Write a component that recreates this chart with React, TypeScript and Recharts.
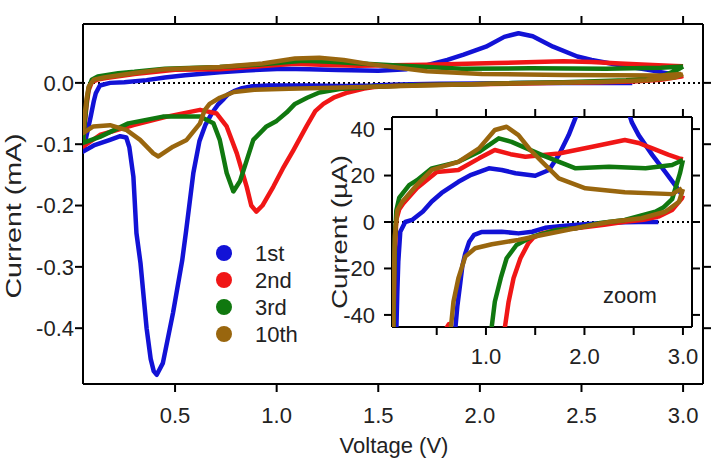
import React from 'react';
import { ScatterChart, Scatter, XAxis, YAxis, ReferenceLine } from 'recharts';

type Pt = [number, number];

// voltage (V), current (mA), in sweep order
const cycle1st: Pt[] = [
  [2.75, 0.0], [2.55, 0.0], [2.4, -0.0001], [2.2, -0.0004], [2.0, -0.001], [1.8, -0.0016],
  [1.6, -0.0025], [1.47, -0.0042], [1.33, -0.0049], [1.16, -0.0042], [0.96, -0.0043],
  [0.88, -0.0055], [0.83, -0.0085], [0.79, -0.0135], [0.76, -0.019], [0.74, -0.026],
  [0.71, -0.036], [0.68, -0.05], [0.65, -0.068], [0.62, -0.095], [0.59, -0.147],
  [0.555, -0.24], [0.535, -0.29], [0.49, -0.375], [0.44, -0.457], [0.41, -0.476],
  [0.395, -0.47], [0.38, -0.45], [0.36, -0.4], [0.33, -0.294], [0.31, -0.245],
  [0.295, -0.153], [0.275, -0.105], [0.26, -0.089], [0.23, -0.087], [0.18, -0.093],
  [0.1, -0.102], [0.047, -0.112],
  [0.065, -0.085], [0.085, -0.055], [0.1, -0.03], [0.11, -0.017], [0.13, -0.0042],
  [0.18, 0.0], [0.25, 0.0009], [0.36, 0.0045], [0.45, 0.0088], [0.55, 0.0125],
  [0.72, 0.0173], [0.85, 0.0203], [1.03, 0.0231], [1.16, 0.0224], [1.3, 0.021],
  [1.5, 0.0199], [1.64, 0.0224], [1.74, 0.0288], [1.84, 0.0374], [1.92, 0.046],
  [2.03, 0.059], [2.12, 0.075], [2.19, 0.081], [2.26, 0.076], [2.36, 0.059],
  [2.48, 0.043], [2.55, 0.0374], [2.69, 0.0288], [2.82, 0.0216], [2.92, 0.0159],
  [2.99, 0.0116],
];

const cycle2nd: Pt[] = [
  [3.0, 0.0114], [2.99, 0.0102], [2.89, 0.0052], [2.75, 0.0023], [2.6, 0.001],
  [2.41, 0.0001], [2.2, -0.0012], [1.91, -0.0027], [1.7, -0.0036], [1.57, -0.0049],
  [1.48, -0.0068], [1.43, -0.0092], [1.35, -0.0156], [1.28, -0.0242], [1.23, -0.0343],
  [1.19, -0.046], [1.148, -0.07], [1.082, -0.11], [1.03, -0.14], [0.984, -0.169],
  [0.93, -0.2], [0.9, -0.21], [0.875, -0.2], [0.853, -0.17], [0.804, -0.115],
  [0.754, -0.071], [0.705, -0.05], [0.623, -0.044], [0.46, -0.055], [0.295, -0.069],
  [0.13, -0.085], [0.047, -0.104],
  [0.055, -0.07], [0.065, -0.035], [0.075, -0.012], [0.09, 0.001], [0.12, 0.0055],
  [0.16, 0.008], [0.3, 0.0146], [0.5, 0.0215], [0.72, 0.0224], [0.93, 0.0274],
  [1.09, 0.031], [1.25, 0.0292], [1.4, 0.0281], [1.74, 0.0295], [2.08, 0.0324],
  [2.41, 0.0353], [2.55, 0.034], [2.69, 0.0317], [2.85, 0.029], [2.96, 0.0274],
  [3.0, 0.027],
];

const cycle3rd: Pt[] = [
  [3.0, 0.0267], [2.97, 0.021], [2.94, 0.0168], [2.89, 0.0098], [2.8, 0.0062],
  [2.72, 0.0044], [2.41, 0.0009], [2.16, -0.0004], [1.91, -0.0027], [1.72, -0.0034],
  [1.47, -0.0063], [1.31, -0.0099], [1.21, -0.0156], [1.15, -0.0242], [1.09, -0.0343],
  [1.05, -0.048], [1.0, -0.062], [0.95, -0.071], [0.885, -0.093], [0.853, -0.126],
  [0.82, -0.16], [0.787, -0.177], [0.754, -0.147], [0.72, -0.093], [0.689, -0.066],
  [0.623, -0.055], [0.44, -0.055], [0.27, -0.066], [0.13, -0.088], [0.047, -0.098],
  [0.055, -0.065], [0.065, -0.03], [0.075, -0.008], [0.09, 0.005], [0.12, 0.0105],
  [0.22, 0.0159], [0.3, 0.018], [0.45, 0.0231], [0.72, 0.0259], [0.93, 0.0302],
  [1.13, 0.036], [1.26, 0.0345], [1.57, 0.0288], [1.91, 0.0231], [2.25, 0.0238],
  [2.62, 0.0231], [2.89, 0.0245], [3.0, 0.0267],
];

const cycle10th: Pt[] = [
  [3.0, 0.0142], [2.96, 0.0087], [2.82, 0.0044], [2.58, 0.0016], [2.25, 0.0],
  [1.91, -0.0027], [1.57, -0.0056], [1.33, -0.0077], [1.06, -0.0096], [0.89, -0.0113],
  [0.79, -0.0149], [0.72, -0.0242], [0.67, -0.0343], [0.645, -0.045], [0.623, -0.066],
  [0.557, -0.093], [0.49, -0.104], [0.418, -0.12], [0.393, -0.115], [0.328, -0.093],
  [0.262, -0.077], [0.18, -0.069], [0.098, -0.071], [0.047, -0.082],
  [0.055, -0.055], [0.065, -0.025], [0.075, -0.006], [0.1, 0.005], [0.15, 0.0087],
  [0.3, 0.016], [0.45, 0.0224], [0.72, 0.0259], [0.93, 0.0317], [1.09, 0.0396],
  [1.21, 0.041], [1.33, 0.0374], [1.45, 0.031], [1.57, 0.0259], [1.74, 0.0188],
  [2.01, 0.0145], [2.41, 0.0128], [2.89, 0.012], [2.99, 0.0145],
];

const cycles = [
  { name: '1st', color: '#1212d6', points: cycle1st },
  { name: '2nd', color: '#f01616', points: cycle2nd },
  { name: '3rd', color: '#10780f', points: cycle3rd },
  { name: '10th', color: '#99660e', points: cycle10th },
];

const mainXTicks = [0.5, 1.0, 1.5, 2.0, 2.5, 3.0];
const mainYTicks = [0, -0.1, -0.2, -0.3, -0.4];
const insetXTicks = [0.5, 1.0, 1.5, 2.0, 2.5, 3.0];
const insetYTicks = [40, 20, 0, -20, -40];

const FONT = '"Liberation Sans", Arial, sans-serif';
const tickStyle = { fontSize: 22, fill: '#222', fontFamily: FONT };
const axisLine = { stroke: '#000', strokeWidth: 2 };
const tickLine = { stroke: '#000', strokeWidth: 2 };
const noShape = () => <g />;
const blank = () => '';

// mirror axes (top / right) only carry tick marks
function frameAxes(xDomain: number[], yDomain: number[], xTicks: number[], yTicks: number[]) {
  return [
    <XAxis key="t" xAxisId="t" orientation="top" type="number" dataKey="v" domain={xDomain} allowDataOverflow
      ticks={xTicks} tickFormatter={blank} height={1} tickSize={8}
      tick={tickStyle} axisLine={axisLine} tickLine={tickLine} />,
    <YAxis key="r" yAxisId="r" orientation="right" type="number" dataKey="i" domain={yDomain} allowDataOverflow
      ticks={yTicks} tickFormatter={blank} width={1} tickSize={8}
      tick={tickStyle} axisLine={axisLine} tickLine={tickLine} />,
  ];
}

export default function App() {
  const mainData = cycles.map(c => ({ ...c, data: c.points.map(([v, i]) => ({ v, i })) }));
  const insetData = cycles.map(c => ({ ...c, data: c.points.map(([v, i]) => ({ v, i: i * 1000 })) }));
  const mainX = [0.047, 3.098];
  const mainY = [-0.491, 0.096];
  const insetX = [0.046, 3.092];
  const insetY = [-45.2, 45.2];

  return (
    <div style={{ position: 'absolute', left: 0, top: 0, width: 713, height: 466, background: '#fff' }}>
      <div style={{ position: 'absolute', left: 0, top: 0 }}>
        <ScatterChart width={713} height={466} margin={{ top: 23, right: 9, bottom: 0, left: 0 }}>
          <XAxis xAxisId="b" type="number" dataKey="v" domain={mainX} allowDataOverflow
            ticks={mainXTicks} tickFormatter={v => v.toFixed(1)} height={82} tickSize={8} tickMargin={15}
            tick={tickStyle} axisLine={axisLine} tickLine={tickLine} />
          <YAxis yAxisId="l" type="number" dataKey="i" domain={mainY} allowDataOverflow
            ticks={mainYTicks} tickFormatter={v => v.toFixed(1)} width={83} tickSize={8} tickMargin={1}
            tick={tickStyle} axisLine={axisLine} tickLine={tickLine} />
          {frameAxes(mainX, mainY, mainXTicks, mainYTicks)}
          <ReferenceLine xAxisId="b" yAxisId="l" y={0} stroke="#000" strokeWidth={2} strokeDasharray="2 3" />
          <Scatter xAxisId="t" yAxisId="r" data={mainData[0].data} shape={noShape} isAnimationActive={false} />
          {mainData.map(c => (
            <Scatter key={c.name} xAxisId="b" yAxisId="l" data={c.data} shape={noShape}
              line={{ stroke: c.color, strokeWidth: 4.5, strokeLinejoin: 'round' }} isAnimationActive={false} />
          ))}
        </ScatterChart>
      </div>
      <div style={{ position: 'absolute', left: 392, top: 117, width: 300, height: 210, background: '#fff' }} />
      <div style={{ position: 'absolute', left: 330, top: 100 }}>
        <ScatterChart width={375} height={270} margin={{ top: 16, right: 12, bottom: 0, left: 0 }}>
          <XAxis xAxisId="b" type="number" dataKey="v" domain={insetX} allowDataOverflow
            ticks={insetXTicks} tickFormatter={v => (Number.isInteger(v) ? v.toFixed(1) : '')}
            height={43} tickSize={8} tickMargin={13}
            tick={tickStyle} axisLine={axisLine} tickLine={tickLine} />
          <YAxis yAxisId="l" type="number" dataKey="i" domain={insetY} allowDataOverflow
            ticks={insetYTicks} width={62} tickSize={8} tickMargin={9}
            tick={tickStyle} axisLine={axisLine} tickLine={tickLine} />
          {frameAxes(insetX, insetY, insetXTicks, insetYTicks)}
          <ReferenceLine xAxisId="b" yAxisId="l" y={0} stroke="#000" strokeWidth={2} strokeDasharray="2 3" />
          <Scatter xAxisId="t" yAxisId="r" data={insetData[0].data} shape={noShape} isAnimationActive={false} />
          {insetData.map(c => (
            <Scatter key={c.name} xAxisId="b" yAxisId="l" data={c.data} shape={noShape}
              line={{ stroke: c.color, strokeWidth: 4.5, strokeLinejoin: 'round' }} isAnimationActive={false} />
          ))}
        </ScatterChart>
      </div>
      <svg width={713} height={466} style={{ position: 'absolute', left: 0, top: 0, pointerEvents: 'none' }}
        fontFamily={FONT} fontSize={22} fill="#222">
        <text transform="translate(13 216) rotate(-90) scale(1.3 1)" textAnchor="middle" dominantBaseline="central">Current (mA)</text>
        <text x={394} y={453} textAnchor="middle">Voltage (V)</text>
        <text transform="translate(339 232) rotate(-90) scale(1.27 1)" textAnchor="middle" dominantBaseline="central">Current (µA)</text>
        <text x={603} y={303}>zoom</text>
        {cycles.map((c, k) => (
          <g key={c.name}>
            <circle cx={224} cy={253 + k * 27} r={8} fill={c.color} />
            <text x={255} y={253 + k * 27} dominantBaseline="central">{c.name}</text>
          </g>
        ))}
      </svg>
    </div>
  );
}
